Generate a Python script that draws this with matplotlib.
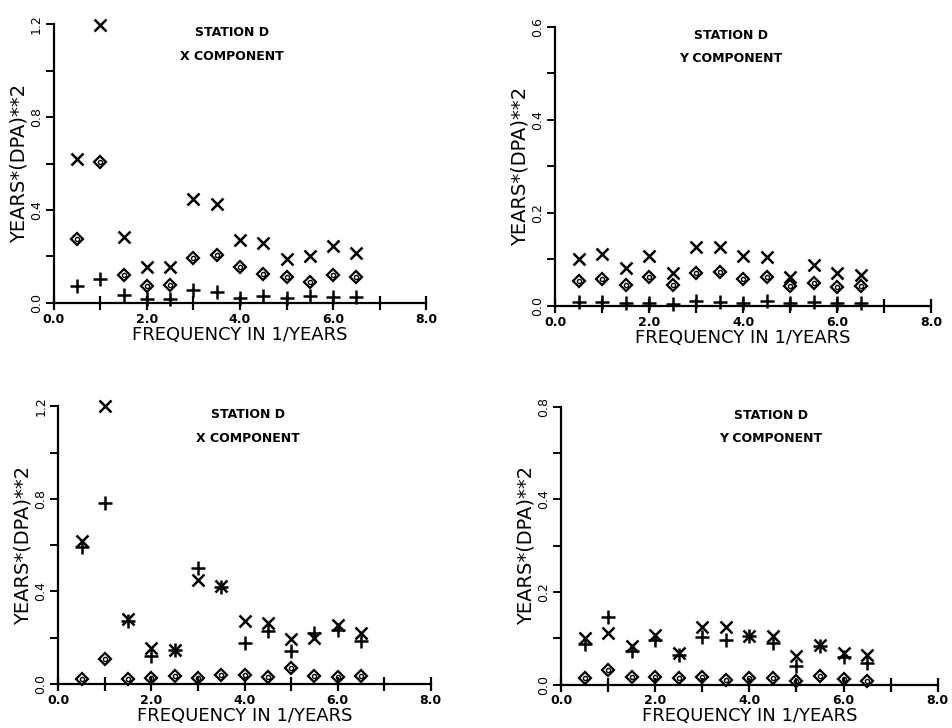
import matplotlib.pyplot as plt
import numpy as np

plt.rcParams['font.family'] = ['DejaVu Sans']

freq = [0.5, 1.0, 1.5, 2.0, 2.5, 3.0, 3.5, 4.0, 4.5, 5.0, 5.5, 6.0, 6.5]

#### top left : X component
p1_cross = [0.619, 1.196, 0.284, 0.155, 0.153, 0.448, 0.427, 0.272, 0.258, 0.189, 0.200, 0.246, 0.215]
p1_diam  = [0.274, 0.607, 0.120, 0.072, 0.077, 0.195, 0.206, 0.155, 0.123, 0.112, 0.092, 0.120, 0.112]
p1_plus  = [0.072, 0.103, 0.034, 0.017, 0.017, 0.054, 0.046, 0.023, 0.032, 0.020, 0.032, 0.026, 0.026]

#### top right : Y component
p2_cross = [0.100, 0.111, 0.082, 0.107, 0.070, 0.126, 0.127, 0.107, 0.105, 0.063, 0.089, 0.070, 0.067]
p2_diam  = [0.054, 0.057, 0.046, 0.062, 0.044, 0.070, 0.072, 0.057, 0.062, 0.042, 0.050, 0.040, 0.042]
p2_plus  = [0.009, 0.009, 0.007, 0.006, 0.004, 0.010, 0.009, 0.007, 0.011, 0.006, 0.009, 0.006, 0.006]

#### bottom left : X component
p3_cross = [0.619, 1.200, 0.281, 0.154, 0.148, 0.449, 0.425, 0.272, 0.262, 0.193, 0.199, 0.255, 0.222]
p3_plus  = [0.591, 0.781, 0.271, 0.121, 0.147, 0.501, 0.421, 0.176, 0.230, 0.144, 0.222, 0.233, 0.187]
p3_diam  = [0.020, 0.107, 0.023, 0.026, 0.035, 0.024, 0.037, 0.040, 0.029, 0.069, 0.035, 0.029, 0.035]

#### bottom right : Y component
p4_cross = [0.101, 0.112, 0.084, 0.108, 0.069, 0.125, 0.124, 0.106, 0.104, 0.062, 0.086, 0.069, 0.065]
p4_plus  = [0.088, 0.145, 0.073, 0.096, 0.065, 0.102, 0.096, 0.106, 0.091, 0.040, 0.084, 0.059, 0.046]
p4_diam  = [0.014, 0.032, 0.016, 0.016, 0.014, 0.016, 0.010, 0.014, 0.014, 0.009, 0.019, 0.012, 0.007]

xticks = [0, 1, 2, 3, 4, 5, 6, 7, 8]
xticklabels = ["0.0", "", "2.0", "", "4.0", "", "6.0", "", "8.0"]

yticks_x = [0.0, 0.2, 0.4, 0.6, 0.8, 1.0, 1.2]
yticklabels_x = ["0.0", "", "0.4", "", "0.8", "", "1.2"]
yticks_y = [0.0, 0.1, 0.2, 0.3, 0.4, 0.5, 0.6]
yticklabels_y2 = ["0.0", "", "0.2", "", "0.4", "", "0.6"]
yticklabels_y4 = ["0.0", "", "0.2", "", "0.4", "", "0.8"]

PANELS = [
    # rect, cross, diam, plus, ymax, yticks, yticklabels, comp, text x
    ([0.0567, 0.5838, 0.3908, 0.3832], p1_cross, p1_diam, p1_plus, 1.2, yticks_x, yticklabels_x, "X COMPONENT", 0.478),
    ([0.5833, 0.5797, 0.3946, 0.3837], p2_cross, p2_diam, p2_plus, 0.6, yticks_y, yticklabels_y2, "Y COMPONENT", 0.468),
    ([0.0613, 0.0604, 0.3912, 0.3815], p3_cross, p3_diam, p3_plus, 1.2, yticks_x, yticklabels_x, "X COMPONENT", 0.509),
    ([0.5893, 0.0595, 0.3957, 0.3819], p4_cross, p4_diam, p4_plus, 0.6, yticks_y, yticklabels_y4, "Y COMPONENT", 0.557),
]

fig = plt.figure(figsize=(9.52, 7.28), dpi=100)

for rect, cross, diam, plus, ymax, yt, ytl, comp, tx in PANELS:
    ax = fig.add_axes(rect)
    ax.plot(freq, cross, 'x', c='k', markersize=9, markeredgewidth=1.8, clip_on=False)
    ax.plot(freq, plus, '+', c='k', markersize=10, markeredgewidth=1.8, clip_on=False)
    ax.plot(freq, diam, 'D', c='k', mfc='none', markersize=6.5, markeredgewidth=1.6, clip_on=False)
    ax.plot(freq, diam, 'o', c='k', mfc='none', markersize=3, markeredgewidth=1.0, clip_on=False)

    ax.set_xlim(0, 8)
    ax.set_ylim(0, ymax)
    ax.spines['top'].set_visible(False)
    ax.spines['right'].set_visible(False)
    ax.spines['left'].set_linewidth(1.6)
    ax.spines['bottom'].set_linewidth(1.6)

    ax.set_xticks(xticks)
    ax.set_xticklabels(xticklabels, fontsize=9, fontweight='bold')
    ax.tick_params(axis='x', direction='inout', length=10, width=1.6, pad=2)
    ax.set_yticks(yt)
    ax.set_yticklabels(ytl, rotation=90, va='center', fontsize=9)
    ax.tick_params(axis='y', direction='out', length=6, width=1.4, pad=2)

    ax.set_xlabel("FREQUENCY IN 1/YEARS", fontsize=13, labelpad=0)
    ax.set_ylabel("YEARS*(DPA)**2", fontsize=14, labelpad=1)

    ax.text(tx, 0.97, "STATION D", transform=ax.transAxes, ha='center', va='center',
            fontsize=9, fontweight='bold')
    ax.text(tx, 0.885, comp, transform=ax.transAxes, ha='center', va='center',
            fontsize=9, fontweight='bold')

plt.savefig("out.png", dpi=100)
